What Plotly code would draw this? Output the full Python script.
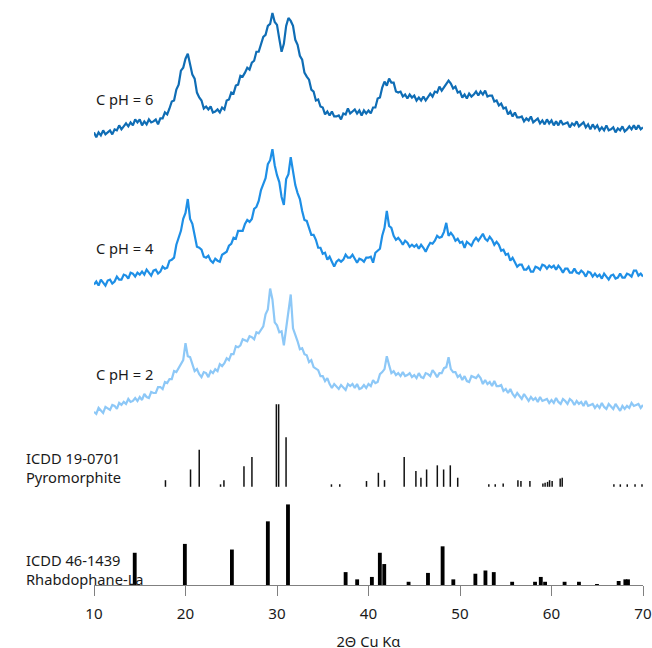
import numpy as np
import plotly.graph_objects as go

# 2-theta sampling grid (degrees)
two_theta = np.round(np.arange(10.0, 70.001, 0.25), 2)

c_ph6 = [
    5, 0, 5, 2, 7, 3, 5, 7, 3, 8, 7, 12, 8, 11, 14, 11, 15, 12, 18, 15,
    18, 12, 16, 13, 18, 15, 16, 18, 13, 19, 19, 25, 23, 29, 36, 37, 48, 53, 67, 70,
    79, 84, 75, 63, 59, 45, 40, 37, 29, 31, 28, 31, 25, 26, 28, 25, 30, 28, 37, 38,
    45, 44, 52, 53, 62, 61, 65, 70, 68, 75, 77, 86, 86, 93, 101, 103, 112, 114, 125, 116,
    113, 99, 86, 94, 112, 120, 117, 112, 98, 93, 82, 78, 65, 61, 58, 48, 46, 37, 38, 31,
    30, 23, 26, 22, 26, 21, 21, 22, 18, 24, 23, 29, 24, 26, 28, 24, 27, 22, 27, 24,
    27, 24, 30, 30, 39, 40, 50, 56, 52, 59, 55, 55, 46, 45, 46, 41, 43, 39, 43, 40,
    42, 37, 40, 37, 41, 37, 40, 44, 41, 46, 45, 51, 47, 50, 53, 57, 54, 49, 51, 45,
    46, 40, 43, 39, 44, 41, 43, 46, 42, 46, 43, 47, 41, 42, 42, 36, 37, 32, 34, 29,
    30, 23, 26, 21, 25, 20, 20, 21, 16, 19, 17, 21, 15, 17, 19, 14, 17, 13, 18, 14,
    17, 12, 16, 12, 17, 13, 14, 15, 10, 14, 12, 16, 11, 13, 15, 10, 13, 8, 13, 9,
    12, 7, 10, 7, 12, 7, 8, 10, 5, 9, 7, 11, 6, 8, 11, 8, 12, 8, 12, 8,
    10,
]
c_ph4 = [
    2, 5, 1, 7, 4, 1, 6, 7, 3, 5, 10, 7, 7, 12, 11, 8, 14, 13, 10, 14,
    12, 15, 12, 17, 14, 11, 16, 17, 13, 15, 20, 18, 19, 26, 27, 29, 42, 50, 56, 68,
    74, 88, 68, 63, 51, 40, 39, 37, 30, 29, 31, 26, 24, 28, 26, 25, 32, 34, 35, 41,
    43, 49, 48, 56, 56, 56, 63, 67, 65, 68, 78, 80, 86, 97, 103, 109, 123, 127, 138, 122,
    112, 105, 90, 82, 108, 113, 130, 115, 102, 94, 88, 76, 67, 66, 60, 52, 52, 47, 39, 39,
    33, 34, 27, 30, 25, 20, 25, 27, 25, 27, 32, 29, 29, 32, 28, 24, 28, 27, 25, 29,
    29, 30, 24, 34, 36, 38, 51, 59, 76, 61, 59, 51, 47, 49, 46, 42, 46, 44, 40, 42,
    40, 42, 38, 42, 39, 35, 40, 44, 43, 46, 51, 49, 50, 55, 64, 51, 54, 51, 46, 48,
    44, 45, 39, 45, 43, 41, 46, 49, 46, 49, 53, 48, 46, 50, 47, 42, 45, 42, 36, 37,
    32, 33, 26, 29, 24, 20, 22, 22, 17, 17, 20, 15, 15, 20, 19, 17, 22, 21, 18, 21,
    19, 21, 17, 21, 18, 14, 18, 18, 14, 14, 18, 14, 13, 16, 14, 10, 15, 14, 10, 13,
    10, 12, 8, 13, 10, 7, 11, 12, 8, 9, 13, 9, 9, 13, 12, 10, 16, 16, 11, 13,
    10,
]
c_ph2 = [
    4, 2, 8, 5, 3, 9, 7, 6, 11, 10, 7, 13, 11, 14, 12, 17, 14, 15, 18, 15,
    19, 16, 22, 19, 18, 24, 23, 23, 29, 29, 27, 34, 33, 37, 37, 45, 44, 48, 53, 56,
    73, 60, 59, 51, 45, 47, 42, 39, 44, 43, 39, 45, 43, 47, 45, 52, 50, 53, 58, 56,
    62, 62, 70, 69, 71, 77, 76, 75, 80, 79, 77, 84, 83, 87, 90, 102, 107, 128, 117, 94,
    91, 84, 85, 71, 87, 107, 122, 88, 82, 75, 67, 68, 62, 61, 54, 56, 49, 47, 46, 40,
    40, 35, 38, 32, 28, 32, 29, 27, 31, 29, 26, 32, 30, 32, 28, 32, 27, 28, 31, 28,
    32, 30, 36, 33, 34, 42, 44, 47, 60, 51, 43, 45, 41, 43, 40, 44, 40, 41, 43, 39,
    41, 38, 43, 39, 38, 43, 42, 40, 46, 43, 39, 43, 43, 48, 49, 59, 47, 44, 44, 39,
    41, 36, 40, 35, 34, 40, 39, 38, 41, 38, 32, 36, 32, 34, 30, 35, 30, 30, 31, 25,
    27, 23, 27, 22, 19, 23, 20, 17, 22, 19, 15, 19, 16, 18, 14, 19, 15, 16, 17, 13,
    16, 13, 18, 14, 12, 17, 15, 12, 17, 15, 11, 15, 12, 14, 10, 15, 10, 11, 12, 8,
    11, 8, 13, 9, 7, 12, 9, 7, 12, 9, 5, 10, 7, 10, 8, 13, 10, 11, 12, 8,
    11,
]
sample_names = ["C pH = 6", "C pH = 4", "C pH = 2"]
sample_offsets = [450, 300, 170]

# Reference patterns: peak positions (deg 2-theta) and relative intensities (%)
pyro_pos = [17.81, 20.55, 21.5, 23.83, 24.2, 26.39, 27.26, 29.93, 30.18, 30.99,
            35.95, 36.86, 39.78, 41.08, 41.75, 43.9, 45.18, 45.73, 46.35, 47.52,
            48.21, 48.94, 49.75, 53.15, 53.85, 54.72, 56.33, 56.66, 57.64, 59.06,
            59.3, 59.57, 59.79, 60.07, 60.95, 61.17, 66.82, 67.52, 68.28, 69.13, 69.89]
pyro_int = [8, 21, 45, 3, 8, 25, 36, 100, 100, 60,
            3, 3, 7, 17, 8, 36, 19, 11, 21, 26,
            21, 26, 11, 3, 3, 4, 8, 7, 7, 4,
            5, 6, 8, 7, 10, 11, 3, 3, 3, 3, 3]
rhab_pos = [14.45, 19.93, 25.07, 29.0, 31.2, 37.5, 38.76, 40.37, 41.24, 41.72,
            44.38, 46.5, 48.1, 49.27, 51.68, 52.78, 53.69, 55.7, 58.2, 58.83,
            59.3, 61.43, 63.0, 64.97, 67.34, 68.07, 68.36]
rhab_int = [40, 51, 44, 79, 100, 16, 7, 10, 40, 26,
            4, 15, 48, 7, 14, 18, 16, 4, 4, 10,
            4, 4, 4, 1, 5, 7, 7]
ref_labels = ["ICDD 19-0701<br>Pyromorphite", "ICDD 46-1439<br>Rhabdophane-La"]
pyro_base, pyro_scale = 98.7, 0.83
rhab_base, rhab_scale = 0.0, 0.81

x_ticks = [10, 20, 30, 40, 50, 60, 70]
x_title = "2Θ Cu Kα"

colors = ["#0f6db5", "#1e8fe6", "#8dc8f7"]
FONT = "Noto Sans"

# the capture is taken over a 660x656 area and reduced to 652x648,
# so all pixel sizes are specified at that slightly larger scale
K = 660 / 652

fig = go.Figure()

for name, vals, off, col in zip(sample_names, [c_ph6, c_ph4, c_ph2], sample_offsets, colors):
    fig.add_trace(go.Scatter(
        x=two_theta, y=np.array(vals) + off, mode="lines",
        line=dict(color=col, width=2.2), name=name, showlegend=False,
        hoverinfo="skip"))

# Pyromorphite sticks (thin lines)
px, py = [], []
for p, i in zip(pyro_pos, pyro_int):
    px += [p, p, None]
    py += [pyro_base, pyro_base + i * pyro_scale, None]
fig.add_trace(go.Scatter(x=px, y=py, mode="lines",
                         line=dict(color="#111111", width=1.5),
                         showlegend=False, hoverinfo="skip"))

# Rhabdophane sticks (thick bars)
fig.add_trace(go.Bar(x=rhab_pos, y=[i * rhab_scale for i in rhab_int],
                     base=rhab_base, width=0.42, marker=dict(color="#000000", line=dict(width=0)),
                     showlegend=False, hoverinfo="skip"))

annotations = []
label_y = [489, 339, 212]
for name, yy in zip(sample_names, label_y):
    annotations.append(dict(x=10, y=yy, xref="x", yref="y", text=name, showarrow=False,
                            xanchor="left", yanchor="middle",
                            font=dict(family=FONT, size=14.5 * K, color="#1a1a1a")))
for txt, yy in zip(ref_labels, [118, 16]):
    annotations.append(dict(x=-0.1277, y=yy, xref="paper", yref="y", text=txt, showarrow=False,
                            xanchor="left", yanchor="middle", align="left",
                            font=dict(family=FONT, size=14.5 * K, color="#1a1a1a")))

fig.update_layout(
    width=660, height=656, autosize=False,
    margin=dict(l=93 * K, r=11 * K, t=8 * K, b=60 * K),
    paper_bgcolor="white", plot_bgcolor="white",
    barmode="overlay",
    annotations=annotations,
    font=dict(family=FONT, size=15 * K, color="#1a1a1a"),
    xaxis=dict(range=[10, 70], tickvals=x_ticks, ticks="outside", ticklen=10 * K,
               tickcolor="#808080", tickwidth=1.2, showline=True, linecolor="#808080",
               linewidth=1.2, showgrid=False, zeroline=False, ticklabelstandoff=5,
               layer="above traces",
               tickfont=dict(family=FONT, size=15 * K, color="#1a1a1a"),
               title=dict(text=x_title, standoff=14,
                          font=dict(family=FONT, size=14.5 * K, color="#1a1a1a"))),
    yaxis=dict(range=[0, 580], visible=False, showgrid=False, zeroline=False),
)

fig.write_html("out.html",
               config={"responsive": False, "displayModeBar": False},
               post_script="document.body.style.margin='0';document.body.style.overflow='hidden';")
